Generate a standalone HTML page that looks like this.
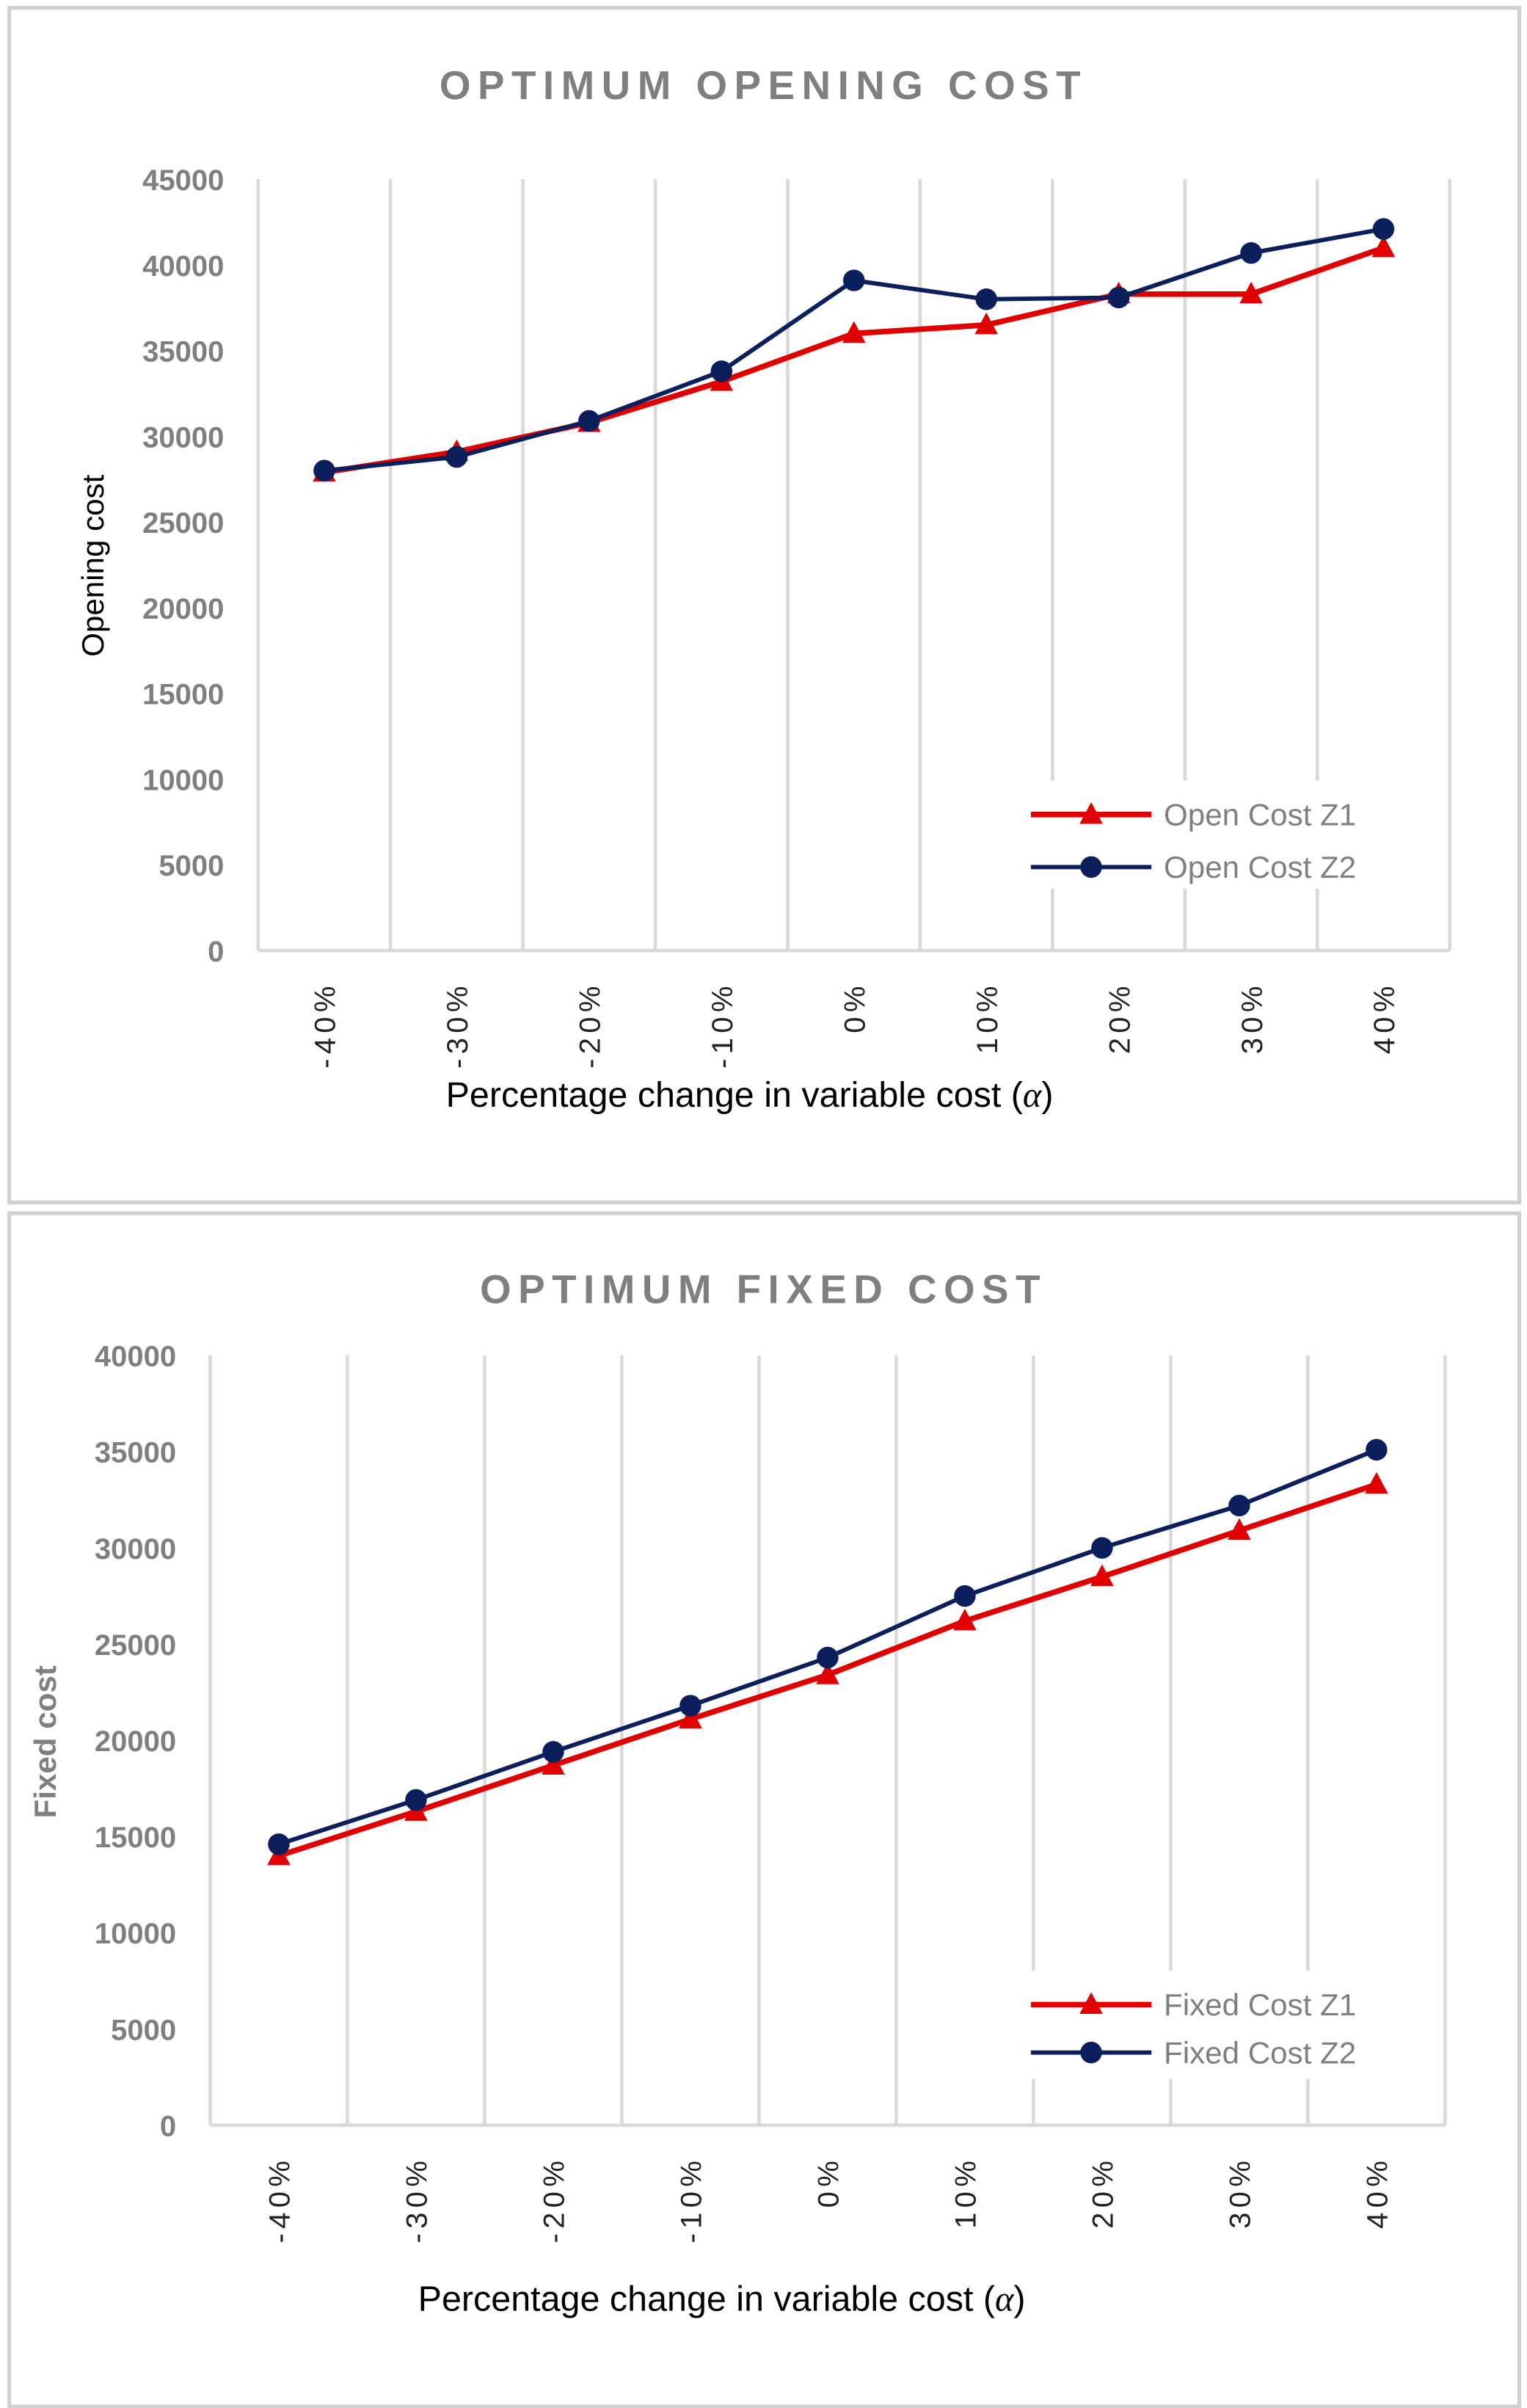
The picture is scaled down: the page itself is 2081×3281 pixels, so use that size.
<!DOCTYPE html>
<html><head><meta charset="utf-8"><style>
html,body{margin:0;padding:0;background:#fff;}
svg{display:block;font-family:"Liberation Sans",sans-serif;}
</style></head><body>
<svg id="root" width="2081" height="3281" viewBox="0 0 988 1558" preserveAspectRatio="none"></svg>
<script>
const categories = ["-40%","-30%","-20%","-10%","0%","10%","20%","30%","40%"];
const openZ1 = [27900,29100,30800,33200,36000,36500,38300,38300,41000];
const openZ2 = [28000,28800,30900,33800,39100,38000,38100,40700,42100];
const openTicks = [0,5000,10000,15000,20000,25000,30000,35000,40000,45000];
const fixedZ1 = [14000,16300,18700,21100,23400,26200,28500,30900,33300];
const fixedZ2 = [14600,16900,19400,21800,24300,27500,30000,32200,35100];
const fixedTicks = [0,5000,10000,15000,20000,25000,30000,35000,40000];

const NS="http://www.w3.org/2000/svg";
const root=document.getElementById('root');
function mk(tag,attrs,parent,text){const e=document.createElementNS(NS,tag);for(const k in attrs)e.setAttribute(k,attrs[k]);if(text!==undefined)e.textContent=text;(parent||root).appendChild(e);return e;}

function chart(cfg){
  const g=mk('g',{});
  
  
  const p=mk('rect',{x:cfg.px,y:cfg.py,width:cfg.pw,height:cfg.ph,fill:'#fff',stroke:'#d0d0d0','stroke-width':2.5},g);
  
  
  const ymax=cfg.ticks[cfg.ticks.length-1];
  const n=cfg.cats.length, bw=(cfg.x1-cfg.x0)/n;
  const X=i=>cfg.x0+bw*(i+0.5);
  const Y=v=>cfg.y0-(v/ymax)*(cfg.y0-cfg.yTop);
  for(let i=0;i<=n;i++){
    const l=mk('line',{x1:cfg.x0+bw*i,x2:cfg.x0+bw*i,y1:cfg.yTop,y2:cfg.y0,stroke:'#d9d9d9','stroke-width':2.2},g);
    
    
  }
  const ax=mk('line',{x1:cfg.x0,x2:cfg.x1,y1:cfg.y0,y2:cfg.y0,stroke:'#d9d9d9','stroke-width':2.2},g);
  
  
  cfg.ticks.forEach(t=>{
    const e=mk('text',{x:cfg.x0-22,y:Y(t)+7,'text-anchor':'end','font-size':19,'font-weight':'bold',fill:'#7f7f7f'},g,String(t));
    
    
  });
  cfg.cats.forEach((c,i)=>{
    const tx=X(i)+7, ty=cfg.y0+20;
    const e=mk('text',{x:tx,y:ty,transform:`rotate(-90 ${tx} ${ty})`,'text-anchor':'end','font-size':19,'letter-spacing':3,fill:'#222'},g,c);
    
    
  });
  const t=mk('text',{x:cfg.titleX,y:cfg.titleY,'text-anchor':'middle','font-size':26,'font-weight':'bold','letter-spacing':4.5,fill:'#7f7f7f'},g,cfg.title);
  
  
  const yt=mk('text',{x:cfg.ytX,y:cfg.ytY,transform:`rotate(-90 ${cfg.ytX} ${cfg.ytY})`,'text-anchor':'middle','font-size':20,'font-weight':cfg.ytBold?'bold':'normal',fill:cfg.ytBold?'#7f7f7f':'#000'},g,cfg.ytitle);
  
  
  const xt=mk('text',{x:cfg.xtX,y:cfg.xtY,'text-anchor':'middle','font-size':23,fill:'#000'},g,'Percentage change in variable cost (');
  
  
  mk('tspan',{'font-style':'italic','font-family':'"Liberation Serif",serif'},xt,'α');
  mk('tspan',{},xt,')');
  // legend background
  const lb=mk('rect',{x:cfg.legX-6,y:cfg.legY-22,width:235,height:70,fill:'#fff'},g);
  
  
  const series=[{v:cfg.z1,c:'#e00000',tri:true,lab:cfg.l1},{v:cfg.z2,c:'#0b1f5c',tri:false,lab:cfg.l2}];
  series.forEach((s,si)=>{
    const pts=s.v.map((v,i)=>X(i)+','+Y(v)).join(' ');
    const pl=mk('polyline',{points:pts,fill:'none',stroke:s.c,'stroke-width':s.tri?3.6:2.8,'stroke-linejoin':'round'},g);
    
    
    s.v.forEach((v,i)=>{
      let m;
      if(s.tri){const x=X(i),y=Y(v);m=mk('polygon',{points:`${x},${y-8} ${x-7.5},${y+6} ${x+7.5},${y+6}`,fill:s.c},g);}
      else m=mk('circle',{cx:X(i),cy:Y(v),r:7,fill:s.c},g);
      
      
    });
    const ly=cfg.legY+si*cfg.legGap;
    const ll=mk('line',{x1:cfg.legX,x2:cfg.legX+78,y1:ly,y2:ly,stroke:s.c,'stroke-width':s.tri?3.6:2.8},g);
    
    
    let lm;
    if(s.tri) lm=mk('polygon',{points:`${cfg.legX+39},${ly-8} ${cfg.legX+31.5},${ly+6} ${cfg.legX+46.5},${ly+6}`,fill:s.c},g);
    else lm=mk('circle',{cx:cfg.legX+39,cy:ly,r:7,fill:s.c},g);
    
    
    const lt=mk('text',{x:cfg.legX+86,y:ly+7,'font-size':20,fill:'#7f7f7f'},g,s.lab);
    
    
  });
}
chart({name:'opening-cost-chart',px:6,py:5,pw:977,ph:773,x0:167,x1:938,y0:615,yTop:116,ticks:openTicks,cats:categories,
  z1:openZ1,z2:openZ2,title:'OPTIMUM OPENING COST',titleX:494,titleY:64,ytitle:'Opening cost',ytX:67,ytY:366,ytBold:false,
  xtX:485,xtY:716,legX:667,legY:527,legGap:34,l1:'Open Cost Z1',l2:'Open Cost Z2'});
chart({name:'fixed-cost-chart',px:6,py:785,pw:977,ph:772,x0:136,x1:935,y0:1375,yTop:877,ticks:fixedTicks,cats:categories,
  z1:fixedZ1,z2:fixedZ2,title:'OPTIMUM FIXED COST',titleX:494,titleY:843,ytitle:'Fixed cost',ytX:36,ytY:1127,ytBold:true,
  xtX:467,xtY:1495,legX:667,legY:1297,legGap:31,l1:'Fixed Cost Z1',l2:'Fixed Cost Z2'});
</script>
</body></html>
